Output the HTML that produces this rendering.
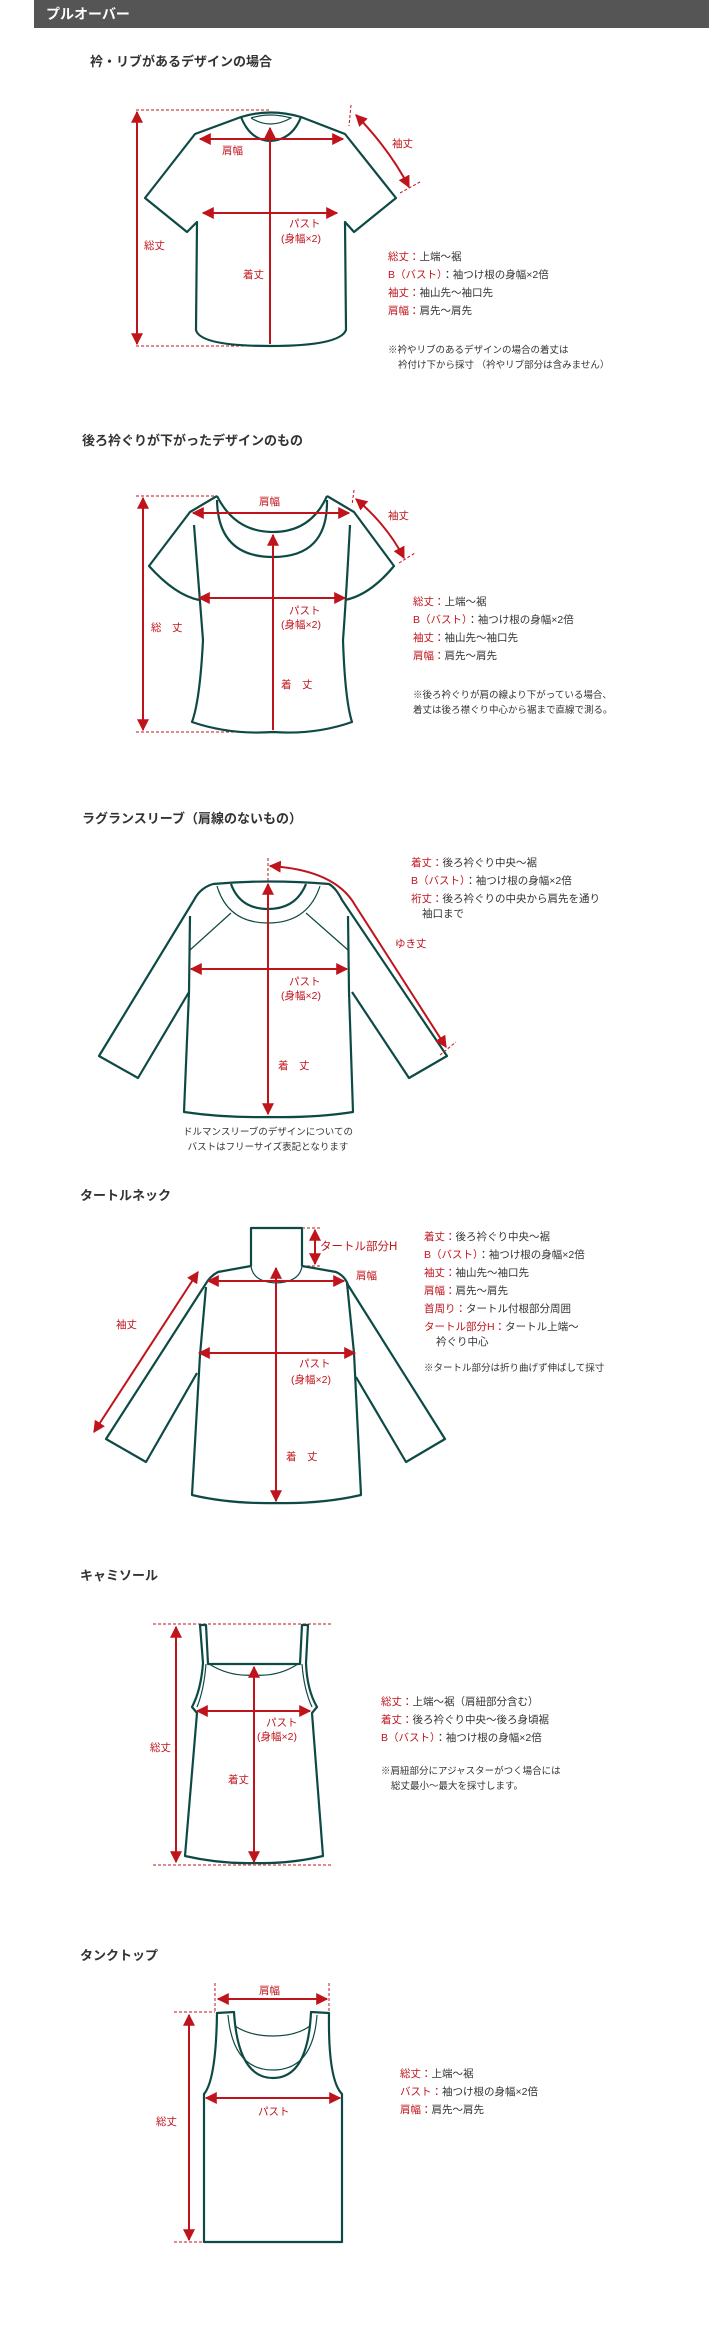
<!DOCTYPE html>
<html><head><meta charset="utf-8"><style>
html,body{margin:0;padding:0;background:#fff}
svg{display:block}
text{font-family:"Liberation Sans","Noto Sans CJK JP",sans-serif;font-size:10.5px;fill:#333}
.h{font-size:13px;font-weight:bold;fill:#333}
.r{fill:#c0141c}
.g{fill:none;stroke:#0e4a45;stroke-width:2.2;stroke-linejoin:round}
.gt{fill:none;stroke:#0e4a45;stroke-width:1.2}
.a{stroke:#c0141c;stroke-width:2;fill:none}
.d{stroke:#c0141c;stroke-width:1;stroke-dasharray:3 2;fill:none}
</style></head><body>
<svg width="722" height="2343" viewBox="0 0 722 2343" xmlns="http://www.w3.org/2000/svg">
<defs>
<marker id="m" viewBox="0 0 10 10" refX="9" refY="5" markerWidth="6" markerHeight="6" orient="auto-start-reverse"><path d="M0,0L10,5L0,10z" fill="#c0141c"/></marker>
</defs>
<rect x="34" y="0" width="675" height="28" fill="#555"/>
<text x="46" y="19" style="font-size:14px;font-weight:bold;fill:#fff">プルオーバー</text>

<!-- Section 1 -->
<text class="h" x="90" y="66">衿・リブがあるデザインの場合</text>
<path class="d" d="M136,110H270M136,346H270"/>
<path class="g" d="M241,117Q270,108 301,117L345,134L396,198L354,232L345,222L346,330Q340,346 270,346Q200,346 196,330L197,222L187,232L145,198L195,134Z"/>
<path class="g" d="M241,117Q250,140 270,141Q292,140 301,117"/>
<path class="gt" d="M251,118Q270,130 291,118Q270,112 251,118"/>
<path class="a" marker-start="url(#m)" marker-end="url(#m)" d="M137,112V344"/>
<path class="a" marker-end="url(#m)" d="M270,344V128"/>
<path class="a" marker-start="url(#m)" marker-end="url(#m)" d="M200,139H343"/>
<path class="a" marker-start="url(#m)" marker-end="url(#m)" d="M203,213H337"/>
<path class="a" marker-start="url(#m)" marker-end="url(#m)" d="M356,115Q390,150 409,187"/>
<path class="d" d="M351,105L349,126M400,193L420,182"/>
<text class="r" x="222" y="154">肩幅</text>
<text class="r" x="392" y="147">袖丈</text>
<text class="r" x="289" y="227">パスト</text>
<text class="r" x="281" y="242">(身幅×2)</text>
<text class="r" x="144" y="249">総丈</text>
<text class="r" x="243" y="278">着丈</text>
<text x="388" y="260"><tspan class="r">総丈：</tspan>上端～裾</text>
<text x="388" y="278"><tspan class="r">B（バスト）</tspan>：袖つけ根の身幅×2倍</text>
<text x="388" y="296"><tspan class="r">袖丈：</tspan>袖山先～袖口先</text>
<text x="388" y="314"><tspan class="r">肩幅：</tspan>肩先～肩先</text>
<text x="388" y="353" style="font-size:9.5px">※衿やリブのあるデザインの場合の着丈は</text>
<text x="398" y="368" style="font-size:9.5px">衿付け下から採寸 （衿やリブ部分は含みません）</text>

<!-- Section 2 -->
<text class="h" x="82" y="445">後ろ衿ぐりが下がったデザインのもの</text>
<path class="d" d="M136,496H217M136,732H265"/>
<path class="g" d="M217,496L190,512L149,566Q175,595 199,600M327,496L354,512L394,566Q370,595 345,600"/>
<path class="g" d="M194,525Q200,600 203,640Q200,700 192,722Q230,735 273,732Q315,735 352,722Q345,700 343,640Q346,600 350,525"/>
<path class="g" d="M217,496Q235,532 273,532Q311,532 327,496"/>
<path class="g" d="M217,500Q218,557 273,557Q328,557 327,500"/>
<path class="a" marker-start="url(#m)" marker-end="url(#m)" d="M143,498V730"/>
<path class="a" marker-end="url(#m)" d="M273,730V535"/>
<path class="a" marker-start="url(#m)" marker-end="url(#m)" d="M193,513H349"/>
<path class="a" marker-start="url(#m)" marker-end="url(#m)" d="M199,598H345"/>
<path class="a" marker-start="url(#m)" marker-end="url(#m)" d="M356,499Q387,525 404,558"/>
<path class="d" d="M354,490L352,505M399,563L415,553"/>
<text class="r" x="259" y="505">肩幅</text>
<text class="r" x="388" y="519">袖丈</text>
<text class="r" x="289" y="614">パスト</text>
<text class="r" x="281" y="628">(身幅×2)</text>
<text class="r" x="151" y="631">総　丈</text>
<text class="r" x="281" y="688">着　丈</text>
<text x="413" y="605"><tspan class="r">総丈：</tspan>上端～裾</text>
<text x="413" y="623"><tspan class="r">B（バスト）</tspan>：袖つけ根の身幅×2倍</text>
<text x="413" y="641"><tspan class="r">袖丈：</tspan>袖山先～袖口先</text>
<text x="413" y="659"><tspan class="r">肩幅：</tspan>肩先～肩先</text>
<text x="413" y="698" style="font-size:9.5px">※後ろ衿ぐりが肩の線より下がっている場合、</text>
<text x="413" y="713" style="font-size:9.5px">着丈は後ろ襟ぐり中心から裾まで直線で測る。</text>

<!-- Section 3 -->
<text class="h" x="82" y="823">ラグランスリーブ（肩線のないもの）</text>
<path class="g" d="M213,884Q268,879 329,884Q336,888 342,900L447,1056L409,1078L352,992M213,884Q200,888 194,900L99,1056L138,1078L189,992"/>
<path class="g" d="M190,916L189,992L184,1112Q225,1118 268,1117Q315,1118 353,1112L349,992L348,916"/>
<path class="g" d="M231,884Q240,909 268,909Q296,909 306,884"/>
<path class="gt" d="M217,886Q228,923 268,923Q308,923 320,886M231,913L190,950M306,913L348,950"/>
<path class="d" d="M268,858V882"/>
<path class="a" marker-start="url(#m)" marker-end="url(#m)" d="M268,884V1114"/>
<path class="a" marker-start="url(#m)" marker-end="url(#m)" d="M191,969H347"/>
<path class="a" marker-start="url(#m)" marker-end="url(#m)" d="M270,866Q335,870 355,905L446,1047"/>
<path class="d" d="M440,1055L456,1042"/>
<text class="r" x="395" y="947">ゆき丈</text>
<text class="r" x="289" y="985">パスト</text>
<text class="r" x="281" y="999">(身幅×2)</text>
<text class="r" x="278" y="1069">着　丈</text>
<text x="411" y="866"><tspan class="r">着丈：</tspan>後ろ衿ぐり中央～裾</text>
<text x="411" y="884"><tspan class="r">B（バスト）</tspan>：袖つけ根の身幅×2倍</text>
<text x="411" y="902"><tspan class="r">裄丈：</tspan>後ろ衿ぐりの中央から肩先を通り</text>
<text x="422" y="917">袖口まで</text>
<text x="268" y="1135" text-anchor="middle" style="font-size:9.5px">ドルマンスリーブのデザインについての</text>
<text x="268" y="1150" text-anchor="middle" style="font-size:9.5px">バストはフリーサイズ表記となります</text>

<!-- Section 4 -->
<text class="h" x="80" y="1200">タートルネック</text>
<path class="g" d="M251,1266V1228H302V1266"/>
<path class="gt" d="M251,1266Q253,1282 276,1283Q300,1282 302,1266"/>
<path class="d" d="M302,1228H320M302,1266H320"/>
<path class="g" d="M251,1266L218,1272Q210,1276 205,1285L106,1439L146,1462L197,1373M302,1266L336,1272Q345,1276 348,1285L445,1439L406,1462L356,1377"/>
<path class="g" d="M206,1287L200,1355L192,1495Q230,1504 276,1503Q322,1504 361,1495L354,1353L347,1283"/>
<path class="a" marker-start="url(#m)" marker-end="url(#m)" d="M315,1230V1264"/>
<path class="a" marker-start="url(#m)" marker-end="url(#m)" d="M208,1281H344"/>
<path class="a" marker-start="url(#m)" marker-end="url(#m)" d="M199,1353H355"/>
<path class="a" marker-start="url(#m)" marker-end="url(#m)" d="M276,1501V1268"/>
<path class="a" marker-start="url(#m)" marker-end="url(#m)" d="M198,1272L94,1432"/>
<text class="r" x="320" y="1250" style="font-size:11.5px">タートル部分H</text>
<text class="r" x="356" y="1279">肩幅</text>
<text class="r" x="116" y="1328">袖丈</text>
<text class="r" x="299" y="1367">パスト</text>
<text class="r" x="291" y="1383">(身幅×2)</text>
<text class="r" x="286" y="1460">着　丈</text>
<text x="424" y="1240"><tspan class="r">着丈：</tspan>後ろ衿ぐり中央～裾</text>
<text x="424" y="1258"><tspan class="r">B（バスト）</tspan>：袖つけ根の身幅×2倍</text>
<text x="424" y="1276"><tspan class="r">袖丈：</tspan>袖山先～袖口先</text>
<text x="424" y="1294"><tspan class="r">肩幅：</tspan>肩先～肩先</text>
<text x="424" y="1312"><tspan class="r">首周り：</tspan>タートル付根部分周囲</text>
<text x="424" y="1330"><tspan class="r">タートル部分H：</tspan>タートル上端～</text>
<text x="436" y="1345">衿ぐり中心</text>
<text x="424" y="1371" style="font-size:9.5px">※タートル部分は折り曲げず伸ばして採寸</text>

<!-- Section 5 -->
<text class="h" x="80" y="1580">キャミソール</text>
<path class="d" d="M153,1624H331M153,1865H331"/>
<path class="g" d="M200,1625L203,1663Q201,1690 192,1707L197,1713L185,1856Q220,1864 254,1863Q290,1864 323,1856L312,1713L317,1707Q307,1690 306,1663L308,1625H302L300,1664H208L206,1625Z"/>
<path class="gt" d="M209,1664Q230,1677 254,1675Q278,1677 298,1664M206,1664Q204,1690 197,1707M302,1664Q304,1690 312,1707"/>
<path class="a" marker-start="url(#m)" marker-end="url(#m)" d="M176,1627V1862"/>
<path class="a" marker-start="url(#m)" marker-end="url(#m)" d="M254,1667V1862"/>
<path class="a" marker-start="url(#m)" marker-end="url(#m)" d="M197,1711H310"/>
<text class="r" x="266" y="1726">パスト</text>
<text class="r" x="257" y="1740">(身幅×2)</text>
<text class="r" x="150" y="1751">総丈</text>
<text class="r" x="228" y="1783">着丈</text>
<text x="381" y="1705"><tspan class="r">総丈：</tspan>上端～裾（肩紐部分含む）</text>
<text x="381" y="1723"><tspan class="r">着丈：</tspan>後ろ衿ぐり中央～後ろ身頃裾</text>
<text x="381" y="1741"><tspan class="r">B（バスト）</tspan>：袖つけ根の身幅×2倍</text>
<text x="381" y="1774" style="font-size:9.5px">※肩紐部分にアジャスターがつく場合には</text>
<text x="391" y="1789" style="font-size:9.5px">総丈最小～最大を採寸します。</text>

<!-- Section 6 -->
<text class="h" x="80" y="1960">タンクトップ</text>
<path class="d" d="M215,1983V2012M329,1983V2012M174,2012H215M174,2242H203"/>
<path class="g" d="M217,2013L234,2012Q238,2078 273,2078Q308,2078 311,2012L329,2013Q328,2080 342,2094V2242H204V2094Q216,2080 217,2013Z"/>
<path class="gt" d="M228,2015Q233,2070 273,2070Q313,2070 317,2015M235,2026Q250,2036 273,2036Q296,2036 310,2026"/>
<path class="a" marker-start="url(#m)" marker-end="url(#m)" d="M218,1999H327"/>
<path class="a" marker-start="url(#m)" marker-end="url(#m)" d="M189,2015V2240"/>
<path class="a" marker-start="url(#m)" marker-end="url(#m)" d="M206,2098H340"/>
<text class="r" x="259" y="1994">肩幅</text>
<text class="r" x="258" y="2115">パスト</text>
<text class="r" x="156" y="2125">総丈</text>
<text x="400" y="2077"><tspan class="r">総丈：</tspan>上端～裾</text>
<text x="400" y="2095"><tspan class="r">バスト：</tspan>袖つけ根の身幅×2倍</text>
<text x="400" y="2113"><tspan class="r">肩幅：</tspan>肩先～肩先</text>
</svg>
</body></html>
